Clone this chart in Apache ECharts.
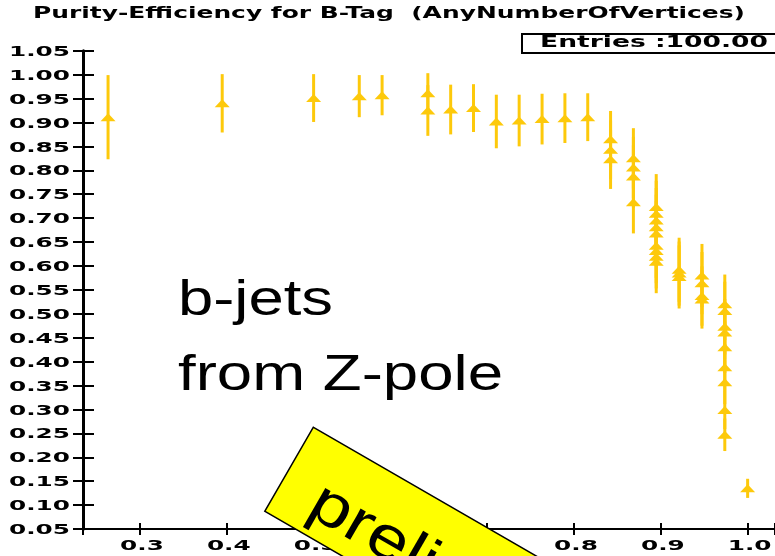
<!DOCTYPE html>
<html>
<head>
<meta charset="utf-8">
<script src="https://cdn.jsdelivr.net/npm/echarts@6/dist/echarts.min.js"></script>
<style>
html,body{margin:0;padding:0;background:#ffffff;}
#chart{width:775px;height:556px;}
</style>
</head>
<body>
<div id="chart"></div>
<script>
// ---- data ----
const efficiency = [
  0.2632, 0.3947, 0.5000, 0.5526, 0.5789,
  0.6316, 0.6316, 0.6579, 0.6842, 0.7105,
  0.7368, 0.7632, 0.7895, 0.8158,
  0.8421, 0.8421, 0.8421,
  0.8684, 0.8684, 0.8684, 0.8684,
  0.8947, 0.8947, 0.8947, 0.8947, 0.8947, 0.8947, 0.8947, 0.8947, 0.8947,
  0.9211, 0.9211, 0.9211,
  0.9474, 0.9474, 0.9474, 0.9474,
  0.9737, 0.9737, 0.9737, 0.9737, 0.9737, 0.9737, 0.9737, 0.9737, 0.9737,
  1.0000
];
const purity = [
  0.911, 0.940, 0.951, 0.955, 0.957,
  0.961, 0.925, 0.927, 0.930, 0.902,
  0.904, 0.907, 0.909, 0.911,
  0.865, 0.843, 0.823,
  0.825, 0.806, 0.787, 0.733,
  0.723, 0.709, 0.695, 0.681, 0.668, 0.642, 0.631, 0.619, 0.609,
  0.592, 0.584, 0.577,
  0.580, 0.564, 0.537, 0.530,
  0.520, 0.506, 0.473, 0.461, 0.430, 0.388, 0.357, 0.299, 0.247,
  0.135
];
const purityError = [
  0.088, 0.061, 0.050, 0.044, 0.042,
  0.042, 0.053, 0.052, 0.050, 0.056,
  0.054, 0.053, 0.052, 0.050,
  0.059, 0.061, 0.062,
  0.063, 0.064, 0.065, 0.065,
  0.069, 0.069, 0.068, 0.068, 0.068, 0.067, 0.067, 0.066, 0.066,
  0.067, 0.067, 0.066,
  0.066, 0.065, 0.062, 0.061,
  0.062, 0.061, 0.058, 0.057, 0.054, 0.049, 0.046, 0.040, 0.034,
  0.020
];
const xTickLabels = ['0.3', '0.4', '0.5', '0.6', '0.7', '0.8', '0.9', '1.0'];
const yTickLabels = ['0.05', '0.10', '0.15', '0.20', '0.25', '0.30', '0.35', '0.40', '0.45', '0.50',
                     '0.55', '0.60', '0.65', '0.70', '0.75', '0.80', '0.85', '0.90', '0.95', '1.00', '1.05'];
const titleText = 'Purity-Efficiency for B-Tag  (AnyNumberOfVertices)';
const entriesText = 'Entries :100.00';
const noteLines = ['b-jets', 'from Z-pole'];
const stampText = 'preliminary';

// ---- styling / layout ----
const MARK = '#FDC90B';
const X_MIN = 0.23433, X_MAX = 1.03153;

const measureCtx = document.createElement('canvas').getContext('2d');
function textWidth(font, text) { measureCtx.font = font; return measureCtx.measureText(text).width; }
function fitScale(font, text, target) { return target / textWidth(font, text); }

const titleFont = 'bold 15px "DejaVu Sans"';
const entriesFont = 'bold 15px "DejaVu Sans"';
const tickFont = 'bold 14px "DejaVu Sans"';
const noteFont = '50px "Liberation Sans"';
const stampFont = '61px "Liberation Sans"';
const tickScale = fitScale(tickFont, '0.90', 61);

const chart = echarts.init(document.getElementById('chart'), null, {renderer: 'canvas'});

const errorData = efficiency.map((x, i) => [x, purity[i] - purityError[i], purity[i] + purityError[i]]);
const pointData = efficiency.map((x, i) => [x, purity[i]]);

const axisCommonX = {
  type: 'value', min: X_MIN, max: X_MAX, minInterval: 0.1, maxInterval: 0.1,
  splitLine: {show: false}, position: 'bottom', axisLabel: {show: false}
};
const axisCommonY = {
  type: 'value', min: 0.05, max: 1.05, interval: 0.05,
  splitLine: {show: false}, position: 'left', axisLabel: {show: false}
};

const option = {
  backgroundColor: '#ffffff',
  animation: false,
  grid: {left: 83, right: 0, top: 50.7, bottom: 27, containLabel: false, outerBoundsMode: 'none'},
  xAxis: [
    Object.assign({}, axisCommonX, {
      axisLine: {show: true, lineStyle: {color: '#000', width: 2}},
      axisTick: {show: true, inside: false, length: 6, lineStyle: {color: '#000', width: 2}}
    }),
    Object.assign({}, axisCommonX, {
      axisLine: {show: false},
      axisTick: {show: true, inside: true, length: 6, lineStyle: {color: '#000', width: 2}}
    })
  ],
  yAxis: [
    Object.assign({}, axisCommonY, {
      axisLine: {show: true, lineStyle: {color: '#000', width: 3}},
      axisTick: {show: true, inside: false, length: 10, lineStyle: {color: '#000', width: 2}}
    }),
    Object.assign({}, axisCommonY, {
      axisLine: {show: false},
      axisTick: {show: true, inside: true, length: 11, lineStyle: {color: '#000', width: 2}}
    })
  ],
  series: [
    {
      type: 'custom',
      xAxisIndex: 0, yAxisIndex: 0,
      data: errorData,
      encode: {x: 0, y: [1, 2]},
      renderItem: function (params, api) {
        const p1 = api.coord([api.value(0), api.value(1)]);
        const p2 = api.coord([api.value(0), api.value(2)]);
        return {type: 'line', shape: {x1: p1[0], y1: p1[1], x2: p2[0], y2: p2[1]},
                style: {stroke: MARK, lineWidth: 3}};
      },
      z: 2
    },
    {
      type: 'scatter',
      xAxisIndex: 0, yAxisIndex: 0,
      data: pointData,
      symbol: 'triangle',
      symbolSize: [15, 8],
      itemStyle: {color: MARK, opacity: 1},
      z: 3
    }
  ]
};
chart.setOption(option);

// Tick labels placed through the axes' own scales (wide ROOT-style lettering).
const graphics = [];
xTickLabels.forEach(function (s) {
  const px = chart.convertToPixel({xAxisIndex: 0}, parseFloat(s));
  const py = chart.convertToPixel({yAxisIndex: 0}, 0.05);
  graphics.push({type: 'text', x: px + 2, y: py + 17.5, scaleX: tickScale, z: 10,
    style: {text: s, font: tickFont, fill: '#000', align: 'center', verticalAlign: 'middle'}});
});
yTickLabels.forEach(function (s) {
  const py = chart.convertToPixel({yAxisIndex: 0}, parseFloat(s));
  const px = chart.convertToPixel({xAxisIndex: 0}, X_MIN);
  graphics.push({type: 'text', x: px - 13, y: py + 1.5, scaleX: tickScale, z: 10,
    style: {text: s, font: tickFont, fill: '#000', align: 'right', verticalAlign: 'middle'}});
});
graphics.push(
  {type: 'text', x: 33, y: 14, scaleX: fitScale(titleFont, titleText, 712),
   style: {text: titleText, font: titleFont, fill: '#000', verticalAlign: 'middle', align: 'left'}},
  {type: 'rect', shape: {x: 522, y: 34, width: 262, height: 19},
   style: {fill: '#fff', stroke: '#000', lineWidth: 2}},
  {type: 'text', x: 540, y: 43.5, scaleX: fitScale(entriesFont, entriesText, 228),
   style: {text: entriesText, font: entriesFont, fill: '#000', verticalAlign: 'middle', align: 'left'}},
  {type: 'text', x: 178, y: 301, scaleX: fitScale(noteFont, noteLines[0], 155),
   style: {text: noteLines[0], font: noteFont, fill: '#000', verticalAlign: 'middle', align: 'left'}},
  {type: 'text', x: 178, y: 376, scaleX: fitScale(noteFont, noteLines[1], 325),
   style: {text: noteLines[1], font: noteFont, fill: '#000', verticalAlign: 'middle', align: 'left'}},
  {type: 'group', x: 313.3, y: 427.3, rotation: -Math.PI / 6, z: 100,
   children: [
     {type: 'rect', z: 100, shape: {x: 0, y: 0, width: 460, height: 97},
      style: {fill: '#FFFF00', stroke: '#000', lineWidth: 1.5}},
     {type: 'text', z: 101, x: 36, y: 62, scaleX: 1.2,
      style: {text: stampText, font: stampFont, fill: '#000', verticalAlign: 'middle', align: 'left'}}
   ]}
);
chart.setOption({graphic: graphics});
</script>
</body>
</html>
